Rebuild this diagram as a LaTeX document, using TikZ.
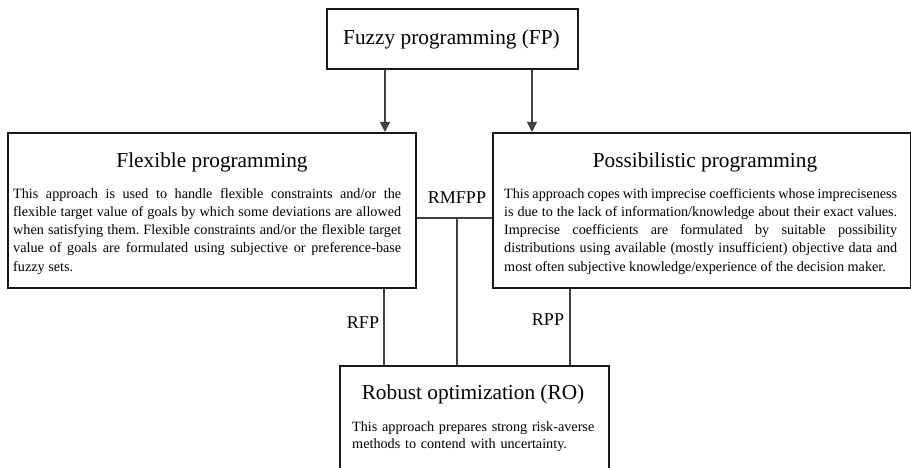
\documentclass[tikz,border=0pt]{standalone}
\usepackage{fontspec}
\setmainfont{Liberation Serif}
\usetikzlibrary{arrows.meta}
\begin{document}
\frenchspacing
\begin{tikzpicture}[x=1pt,y=-1pt,
  boxnode/.style={draw=black!90,line width=1.6pt,rectangle,inner sep=0pt},
  titletext/.style={font=\fontsize{21.3}{25}\selectfont,inner sep=0pt,anchor=center},
  bodytext/.style={font=\fontsize{14.2}{18.1}\selectfont,inner sep=0pt,align=justify,anchor=north west},
  conn/.style={draw=black!75,line width=1.1pt},
  arr/.style={conn,-{Triangle[length=10pt,width=10pt]}},
  labeltext/.style={font=\fontsize{18}{22}\selectfont,inner sep=0pt}]
\clip (0,0) rectangle (911,468);
\fill[white] (0,0) rectangle (911,468);
% boxes
\node[boxnode,minimum width=251pt,minimum height=60pt,anchor=north west] (fp) at (326,8) {};
\node[boxnode,minimum width=408pt,minimum height=155pt,anchor=north west] (flex) at (7,132) {};
\node[boxnode,minimum width=418pt,minimum height=155pt,anchor=north west] (poss) at (492,132) {};
\node[boxnode,minimum width=269pt,minimum height=140pt,anchor=north west] (ro) at (339,365) {};
% titles
\node[titletext] (fpt) at (451.5,39) {Fuzzy programming (FP)};
\node[titletext] (flext) at (212,162) {Flexible programming};
\node[titletext] (posst) at (705,162) {Possibilistic programming};
\node[titletext] (rot) at (473,394) {Robust optimization (RO)};
% bodies
\node[bodytext,text width=388pt] (flexb) at (13,188.5) {This approach is used to handle flexible constraints and/or the\linebreak flexible target value of goals by which some deviations are allowed\linebreak when satisfying them. Flexible constraints and/or the flexible target\linebreak value of goals are formulated using subjective or preference-base\linebreak fuzzy sets.};
\node[bodytext,text width=393pt] (possb) at (504,188.5) {This approach copes with imprecise coefficients whose impreciseness\linebreak is due to the lack of information/knowledge about their exact values.\linebreak Imprecise coefficients are formulated by suitable possibility\linebreak distributions using available (mostly insufficient) objective data and\linebreak most often subjective knowledge/experience of the decision maker.};
\node[bodytext,text width=260pt,align=left,font=\fontsize{14.2}{17}\selectfont] (rob) at (352,421.5) {This approach prepares strong risk-averse\\methods to contend with uncertainty.};
% labels
\node[labeltext] (rmfpp) at (457,198) {RMFPP};
\node[labeltext] (rfp) at (363,323) {RFP};
\node[labeltext] (rpp) at (548,320) {RPP};
% arrows
\draw[arr] (fp.south -| 385,0) -- (flex.north -| 385,0);
\draw[arr] (fp.south -| 532,0) -- (poss.north -| 532,0);
% connectors
\coordinate (mid) at (457,218);
\draw[conn] (flex.east |- mid) -- (poss.west |- mid);
\draw[conn] (mid) -- (ro.north -| mid);
\draw[conn] (flex.south -| 384,0) -- (ro.north -| 384,0);
\draw[conn] (poss.south -| 570,0) -- (ro.north -| 570,0);
\end{tikzpicture}
\end{document}
